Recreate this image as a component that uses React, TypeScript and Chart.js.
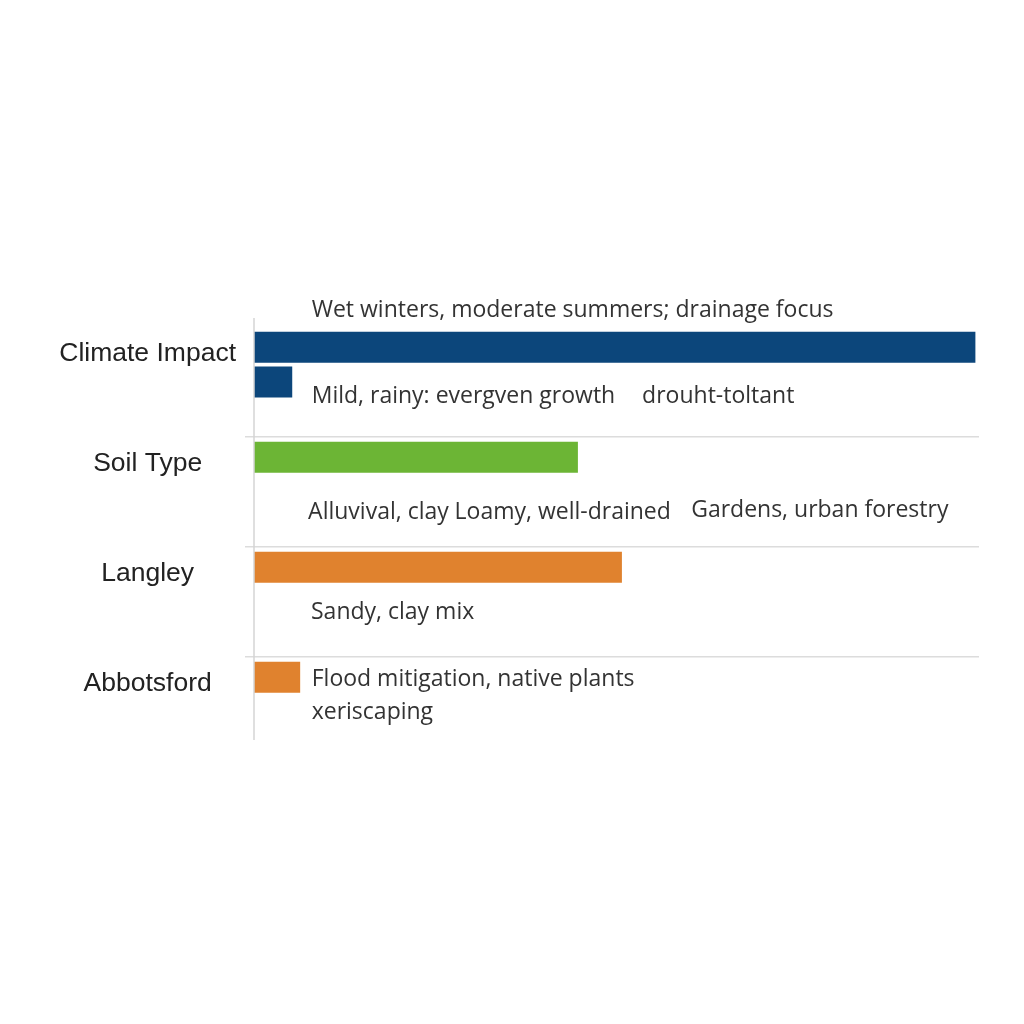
import React, { useEffect, useRef } from "react";
import { Chart, registerables } from "chart.js";

Chart.register(...registerables);

// ---- data ----
const categories = ["Climate Impact", "Soil Type", "Langley", "Abbotsford"];
const primaryValues: (number | null)[] = [100, 44.9, 51.0, 6.4];
const secondaryValues: (number | null)[] = [5.3, null, null, null];
const reserveValues: (number | null)[] = [null, null, null, null];

const primaryColors = ["#0c467b", "#6cb535", "#e0822e", "#e0822e"];
const secondaryColors = ["#0c467b", "#0c467b", "#0c467b", "#0c467b"];

const annotationTexts = [
  "Wet winters, moderate summers; drainage focus",
  "Mild, rainy: evergven growth",
  "drouht-toltant",
  "Alluvival, clay",
  "Loamy, well-drained",
  "Gardens, urban forestry",
  "Sandy, clay mix",
  "Flood mitigation, native plants",
  "xeriscaping",
];
const annotationCategory = [0, 0, 0, 1, 1, 1, 2, 3, 3];
const annotationValueX = [8.0, 8.0, 53.8, 7.5, 27.8, 60.6, 7.9, 8.0, 8.0];
// layout: vertical offsets (px) from the category centre
const annotationDy = [-72, 14, 14, 20, 20, 18, 10, -33, 0];

const annotationPlugin = {
  id: "rowAnnotations",
  afterDatasetsDraw(chart: any) {
    const { ctx, chartArea, scales } = chart;
    const x = scales.x;
    const y = scales.y;
    ctx.save();
    // axis line
    ctx.strokeStyle = "#d4d4d4";
    ctx.lineWidth = 1.5;
    ctx.beginPath();
    ctx.moveTo(chartArea.left, chartArea.top - 9);
    ctx.lineTo(chartArea.left, chartArea.bottom - 27);
    ctx.stroke();
    // annotations
    ctx.font = '23px "Open Sans"';
    ctx.fillStyle = "#333333";
    ctx.textAlign = "left";
    ctx.textBaseline = "middle";
    annotationTexts.forEach((t, i) => {
      const px = x.getPixelForValue(annotationValueX[i]);
      const py = y.getPixelForValue(annotationCategory[i]) + annotationDy[i];
      ctx.fillText(t, px, py);
    });
    ctx.restore();
  },
};

export default function App() {
  const ref = useRef<HTMLCanvasElement | null>(null);

  useEffect(() => {
    if (!ref.current) return;
    const chart = new Chart(ref.current, {
      type: "bar",
      data: {
        labels: categories,
        datasets: [
          {
            label: "Primary",
            data: primaryValues,
            backgroundColor: primaryColors,
            categoryPercentage: 0.95,
            barPercentage: 0.89,
          },
          {
            label: "Secondary",
            data: secondaryValues,
            backgroundColor: secondaryColors,
            categoryPercentage: 0.95,
            barPercentage: 0.89,
          },
          {
            label: "Reserve",
            data: reserveValues,
            backgroundColor: "transparent",
            categoryPercentage: 0.95,
            barPercentage: 0.89,
          },
        ],
      } as any,
      options: {
        indexAxis: "y",
        animation: false,
        responsive: false,
        maintainAspectRatio: false,
        layout: { padding: { top: 327, bottom: 257, left: 0, right: 45 } },
        plugins: {
          legend: { display: false },
          tooltip: { enabled: false },
        },
        scales: {
          x: { type: "linear", min: 0, max: 100.5, display: false },
          y: {
            type: "category",
            offset: true,
            border: { display: false },
            grid: {
              offset: true,
              drawTicks: true,
              tickLength: 9,
              lineWidth: 1.5,
              color: (c: any) =>
                c.type !== "tick" || c.index === 0 ? "rgba(0,0,0,0)" : "#dcdcdc",
            },
            ticks: {
              color: "#222222",
              font: { family: '"Liberation Sans", Arial, sans-serif', size: 26.5 },
              crossAlign: "center",
              padding: 9,
              labelOffset: -28,
            },
            afterFit: (s: any) => {
              s.width = 254;
            },
          },
        },
      } as any,
      plugins: [annotationPlugin],
    });
    return () => chart.destroy();
  }, []);

  return (
    <div style={{ position: "fixed", left: 0, top: 0, width: 1024, height: 1024, background: "#ffffff" }}>
      <canvas ref={ref} width={1024} height={1024} style={{ width: 1024, height: 1024, display: "block" }} />
    </div>
  );
}
